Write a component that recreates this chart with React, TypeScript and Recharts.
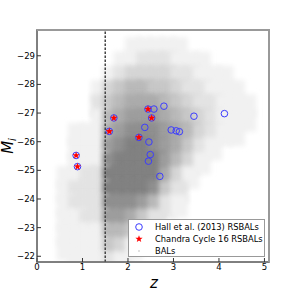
import React from "react";
import { ScatterChart, Scatter, XAxis, YAxis, ReferenceArea, ReferenceLine } from "recharts";

// Hall et al. (2013) RSBALs (open circles)
const hallZ = [0.86, 0.89, 1.69, 1.59, 2.24, 2.44, 2.52, 2.57, 2.79, 2.37, 2.46, 2.49, 2.45, 2.70, 3.45, 4.12, 2.95, 3.06, 3.13];
const hallM = [-25.52, -25.13, -26.83, -26.36, -26.15, -27.14, -26.83, -27.14, -27.24, -26.5, -25.99, -25.55, -25.32, -24.79, -26.89, -26.98, -26.41, -26.38, -26.35];

// Chandra Cycle 16 RSBALs (red stars)
const chandraZ = [0.86, 0.89, 1.69, 1.59, 2.24, 2.44, 2.52];
const chandraM = [-25.52, -25.13, -26.83, -26.36, -26.15, -27.14, -26.83];

// BAL cloud: density 0-9 per cell.
// rows: M from -30 to -21.5 in 0.5 steps, columns: z from 0 to 5 in 0.25 steps
const balRows = [
  "00000000000000000000",
  "00000000111110000000",
  "00000001122211100000",
  "00000012333322111000",
  "00000134554432211100",
  "00000245666543221110",
  "00000156777654321110",
  "00011167888765321100",
  "00011178998764210000",
  "00011189999753100000",
  "00112299999631000000",
  "00122299998420000000",
  "00122288875210000000",
  "00112277642000000000",
  "00111155420000000000",
  "00111143100000000000",
  "00011121000000000000",
];

const zTicks = [0, 1, 2, 3, 4, 5];
const mTicks = [-29, -28, -27, -26, -25, -24, -23, -22];
const zDomain = [0, 5.1];
const mDomain = [-29.9, -21.8];

const hall = hallZ.map((z, i) => ({ z, m: hallM[i] }));
const chandra = chandraZ.map((z, i) => ({ z, m: chandraM[i] }));

const cells: { x1: number; x2: number; y1: number; y2: number; d: number }[] = [];
balRows.forEach((row, r) => {
  row.split("").forEach((ch, c) => {
    const d = Number(ch);
    if (!d) return;
    cells.push({ x1: c * 0.25 - 0.07, x2: (c + 1) * 0.25 + 0.07, y1: -30 + r * 0.5 - 0.15, y2: -30 + (r + 1) * 0.5 + 0.15, d });
  });
});

const grey = (d: number) => {
  const v = Math.round(255 - d * 14);
  return `rgb(${v},${v},${v})`;
};

const fmt = (v: number) => String(v).replace("-", "\u2212");

const font = "DejaVu Sans, sans-serif";
const tickStyle = { fontSize: 8.5, fill: "#000", fontFamily: font };

const Ring = (p: any) => <circle cx={p.cx} cy={p.cy} r={3.3} fill="none" stroke="#3c3cff" strokeWidth={1} />;

const starPoints = (cx: number, cy: number, ro: number, ri: number) => {
  const pts: string[] = [];
  for (let i = 0; i < 10; i++) {
    const r = i % 2 ? ri : ro;
    const a = -Math.PI / 2 + (i * Math.PI) / 5;
    pts.push(`${cx + r * Math.cos(a)},${cy + r * Math.sin(a)}`);
  }
  return pts.join(" ");
};
const Star = (p: any) => <polygon points={starPoints(p.cx, p.cy, 3.8, 1.6)} fill="#ff0000" />;

export default function App() {
  return (
    <div style={{ position: "absolute", left: 0, top: 0, width: 300, height: 300, background: "#fff" }}>
      <svg width={0} height={0} style={{ position: "absolute" }}>
        <defs>
          <filter id="cloudBlur" x="-60%" y="-60%" width="220%" height="220%">
            <feGaussianBlur stdDeviation="2.6" />
          </filter>
        </defs>
      </svg>
      <ScatterChart width={300} height={300} margin={{ top: 29, right: 30, bottom: 18, left: 0 }}>
        <XAxis
          dataKey="z" type="number" domain={zDomain} ticks={zTicks} allowDataOverflow
          height={20} tickSize={-4} tickMargin={6} tick={tickStyle}
          axisLine={{ stroke: "#666" }} tickLine={{ stroke: "#333" }}
          label={{ content: () => <text x={154} y={288} textAnchor="middle" fontFamily={font} fontStyle="italic" fontSize={15}>z</text> }}
        />
        <XAxis
          xAxisId="top" orientation="top" type="number" domain={zDomain} ticks={zTicks} allowDataOverflow
          height={1} tickSize={-4} tick={false} axisLine={false} tickLine={{ stroke: "#333" }}
        />
        <YAxis
          dataKey="m" type="number" domain={mDomain} reversed ticks={mTicks} allowDataOverflow
          width={37} tickSize={-4} tickMargin={6} tick={tickStyle} tickFormatter={fmt}
          axisLine={{ stroke: "#666" }} tickLine={{ stroke: "#333" }}
          label={{
            content: () => (
              <text transform="translate(13,146) rotate(-90)" textAnchor="middle" fontFamily={font} fontStyle="italic" fontSize={15}>
                M<tspan fontSize={10} dy={3}>i</tspan>
              </text>
            ),
          }}
        />
        <YAxis
          yAxisId="right" orientation="right" type="number" domain={mDomain} reversed ticks={mTicks} allowDataOverflow
          width={1} tickSize={-4} tick={false} axisLine={false} tickLine={{ stroke: "#333" }}
        />
        {cells.map((c, i) => (
          <ReferenceArea
            key={i} x1={c.x1} x2={c.x2} y1={c.y1} y2={c.y2} ifOverflow="hidden"
            shape={(p: any) => (
              <rect x={p.x} y={p.y} width={p.width} height={p.height} fill={grey(c.d)} clipPath={p.clipPath} filter="url(#cloudBlur)" />
            )}
          />
        ))}
        <ReferenceArea
          x1={zDomain[0]} x2={zDomain[1]} y1={mDomain[0]} y2={mDomain[1]} ifOverflow="visible"
          fill="none" fillOpacity={0} stroke="#999" strokeWidth={2}
        />
        <ReferenceLine x={1.5} stroke="#444" strokeWidth={1.5} strokeDasharray="2.5 1.5" />
        <Scatter data={hall} shape={Ring} isAnimationActive={false} />
        <Scatter data={chandra} shape={Star} isAnimationActive={false} />
      </ScatterChart>
      {/* top and right spines */}
      <svg width={300} height={300} style={{ position: "absolute", left: 0, top: 0, pointerEvents: "none" }}>
        <polyline points="37,30 269,30 269,262" fill="none" stroke="#999" strokeWidth={2} />
      </svg>
      <div
        style={{
          position: "absolute", left: 128, top: 219, width: 137, height: 38, border: "1px solid #999",
          background: "#fff", fontFamily: font, fontSize: 8.3, lineHeight: "12px", boxSizing: "border-box",
        }}
      >
        {[
          { label: "Hall et al. (2013) RSBALs", mark: <circle cx={6} cy={6} r={3.3} fill="none" stroke="#3c3cff" strokeWidth={1} /> },
          { label: "Chandra Cycle 16 RSBALs", mark: <polygon points={starPoints(6, 6, 3.8, 1.6)} fill="#ff0000" /> },
          { label: "BALs", mark: <rect x={5.5} y={5.5} width={1} height={1} fill="#888" /> },
        ].map((it, i) => (
          <div key={i} style={{ position: "absolute", left: 4, top: 0.5 + i * 12, height: 12, display: "flex", alignItems: "center", whiteSpace: "nowrap" }}>
            <svg width={12} height={12} style={{ marginRight: 10 }}>{it.mark}</svg>
            <span>{it.label}</span>
          </div>
        ))}
      </div>
    </div>
  );
}
